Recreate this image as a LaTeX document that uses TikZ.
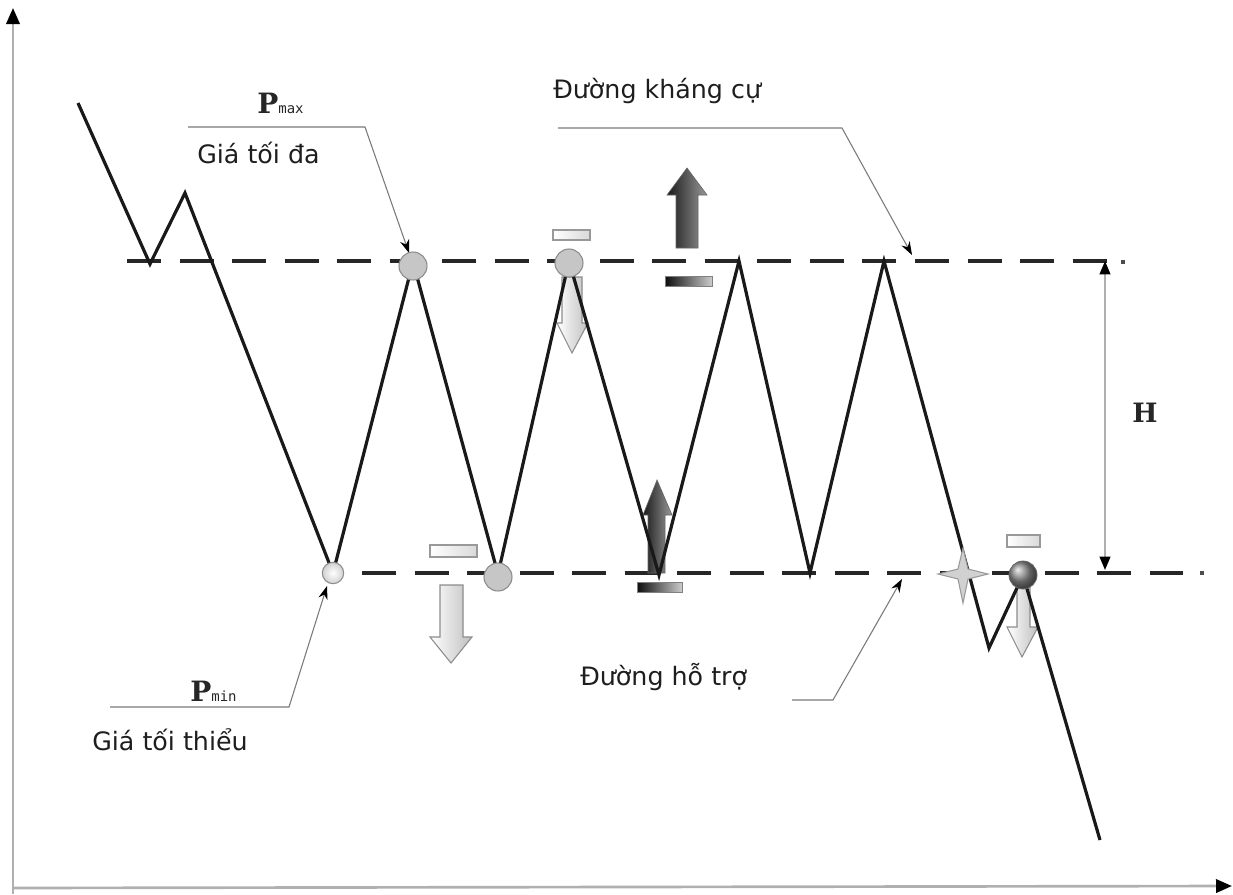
\documentclass[tikz,border=0pt]{standalone}
\usepackage{fontspec}
\setmainfont{DejaVu Sans}
\newfontfamily\slabfont{DejaVu Serif}
\newfontfamily\submono{DejaVu Sans Mono}
\usetikzlibrary{arrows.meta,shadings}
\definecolor{axisgray}{HTML}{B0B0B0}
\definecolor{callgray}{HTML}{7A7A7A}
\definecolor{txt}{HTML}{1E1E1E}
\definecolor{circfill}{HTML}{C6C6C6}
\definecolor{circdraw}{HTML}{8C8C8C}
\tikzset{
  axisline/.style={draw=axisgray,line width=2pt,-{Triangle[length=12pt,width=10pt,color=black]}},
  levelline/.style={draw=black!85,line width=3pt,dash pattern=on 25.5pt off 13.9pt},
  leveldot/.style={fill=black!70,minimum size=3pt,inner sep=0pt,draw=none},
  callout/.style={draw=callgray,line width=0.8pt,-{Stealth[length=10pt,width=7pt,color=black]}},
  priceline/.style={draw=black!90,line width=2.4pt,line join=miter},
  lbl/.style={text=txt,inner sep=0pt,font=\fontsize{19}{22}\selectfont},
  bigP/.style={text=black!85,inner sep=0pt},
  darkarrow/.style={left color=black!90,right color=black!40,draw=black!60,line width=0.5pt},
  lightarrow/.style={left color=white,right color=black!25,draw=black!45,line width=0.8pt},
  lightbar/.style={left color=white,right color=black!15,draw=black!40,line width=0.8pt},
  darkbar/.style={left color=black!95,right color=black!20,draw=black!50,line width=0.4pt},
  pcirc/.style={circle,fill=circfill,draw=circdraw,line width=0.8pt,inner sep=0pt,minimum size=21pt},
}
\begin{document}
\begin{tikzpicture}[x=0.75pt,y=-0.75pt]
\useasboundingbox (0,0) rectangle (1233,894);
\fill[white] (0,0) rectangle (1233,894);
% axes
\coordinate (o) at (13,888);
\coordinate (ytop) at (13,8);
\coordinate (xend) at (1232,886);
\coordinate (ybot) at (13,894);
\draw[axisline] (ybot) -- (ytop);
\draw[axisline] (o) -- (xend);
% levels
\coordinate (r0) at (127,261);
\coordinate (r1) at (1108,261);
\coordinate (s0) at (362,573);
\coordinate (s1) at (1183,573);
\draw[levelline] (r0) -- (r1);
\draw[levelline] (s0) -- (s1);
\node[leveldot] (rdot) at (1123,262) {};
\node[leveldot] (sdot) at (1202,573) {};
% H measure
\coordinate (ht) at (1105,261);
\coordinate (hb) at (1105,570);
\draw[draw=axisgray,line width=1.5pt,{Triangle[length=10pt,width=8pt,color=black]}-{Triangle[length=10pt,width=8pt,color=black]}] (ht) -- (hb);
\node[bigP,font=\slabfont\bfseries\fontsize{20}{22}\selectfont] (H) at (1145,413) {H};
% callouts
\coordinate (pmaxA) at (188,127);
\coordinate (pmaxB) at (365,127);
\coordinate (pmaxT) at (409,253);
\draw[callout] (pmaxA) -- (pmaxB) -- (pmaxT);
\coordinate (kcA) at (558,128);
\coordinate (kcB) at (842,128);
\coordinate (kcT) at (912,255);
\draw[callout] (kcA) -- (kcB) -- (kcT);
\coordinate (pminA) at (110,707);
\coordinate (pminB) at (289,707);
\coordinate (pminT) at (327,586);
\draw[callout] (pminA) -- (pminB) -- (pminT);
\coordinate (htA) at (792,700);
\coordinate (htB) at (833,700);
\coordinate (htT) at (902,579);
\draw[callout] (htA) -- (htB) -- (htT);
% arrows (behind price)
\path[darkarrow] (676,248) -- (676,195) -- (667,195) -- (687,168) -- (707,195) -- (698,195) -- (698,248) -- cycle;
\path[lightarrow] (562,277) -- (562,323) -- (557,323) -- (572,353) -- (588,323) -- (582,323) -- (582,277) -- cycle;
\path[lightarrow] (440,585) -- (440,637) -- (430,637) -- (451,663) -- (472,637) -- (463,637) -- (463,585) -- cycle;
\path[darkarrow] (648,573) -- (648,515) -- (643,515) -- (657,480) -- (672,515) -- (665,515) -- (665,573) -- cycle;
\path[lightarrow] (1017,587) -- (1017,627) -- (1007,627) -- (1022,657) -- (1038,627) -- (1030,627) -- (1030,587) -- cycle;
% bars
\path[lightbar] (553,230) rectangle (590,240);
\path[lightbar] (430,545) rectangle (477,557);
\path[lightbar] (1007,535) rectangle (1040,547);
\path[darkbar] (665,276) rectangle (712,286);
\path[darkbar] (637,582) rectangle (682,592);
% price path
\coordinate (p0) at (78,103);
\coordinate (p1) at (150,264);
\coordinate (p2) at (185,193);
\coordinate (p3) at (333,573);
\coordinate (p4) at (413,262);
\coordinate (p5) at (498,574);
\coordinate (p6) at (569,261);
\coordinate (p7) at (659,575);
\coordinate (p8) at (739,261);
\coordinate (p9) at (810,573);
\coordinate (p10) at (884,261);
\coordinate (p11) at (989,648);
\coordinate (p12) at (1023,575);
\coordinate (p13) at (1100,840);
\draw[priceline] (p0) -- (p1) -- (p2) -- (p3) -- (p4) -- (p5) -- (p6) -- (p7) -- (p8) -- (p9) -- (p10) -- (p11) -- (p12) -- (p13);
% circles
\node[pcirc] (c1) at (413,266) {};
\node[pcirc] (c2) at (569,263) {};
\node[pcirc,minimum size=16pt,fill=none,draw=circdraw,inner color=white,outer color=black!18] (c3) at (333,573) {};
\node[pcirc] (c4) at (498,577) {};
\node[circle,inner sep=0pt,minimum size=21pt,ball color=black!45,draw=black!60,line width=0.6pt] (c5) at (1023,575) {};
% star
\path[fill=black!18,draw=black!40,line width=0.8pt] (938,574) -- (958,569) -- (963,548) -- (968,569) -- (988,574) -- (968,579) -- (963,603) -- (958,579) -- cycle;
% texts
\node[bigP,anchor=base west] (pmax) at (257,113) {{\slabfont\bfseries\fontsize{21}{22}\selectfont P}{\submono\fontsize{10.5}{11}\selectfont max}};
\node[bigP,anchor=base west] (pmin) at (190,701) {{\slabfont\bfseries\fontsize{21}{22}\selectfont P}{\submono\fontsize{10.5}{11}\selectfont min}};
\node[lbl,anchor=base west] (gtd) at (197,163) {Giá tối đa};
\node[lbl,anchor=base west] (gtt) at (92,750) {Giá tối thiểu};
\node[lbl,anchor=base west] (dkc) at (553,98) {Đường kháng cự};
\node[lbl,anchor=base west] (dht) at (580,685) {Đường hỗ trợ};
\end{tikzpicture}
\end{document}
